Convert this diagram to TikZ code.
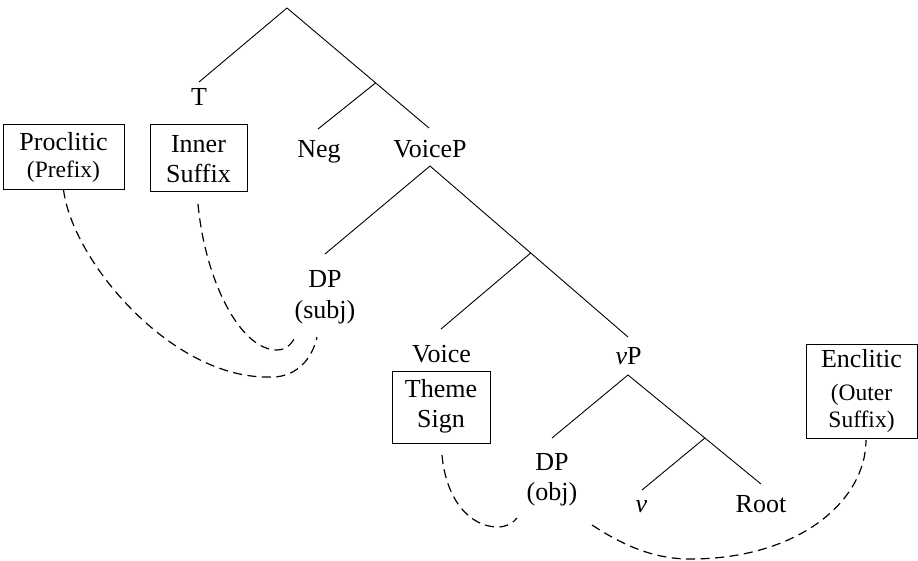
\documentclass[tikz,border=0pt]{standalone}
\usepackage{fontspec}
\setmainfont{Liberation Serif}
\begin{document}
\begin{tikzpicture}[x=1pt,y=-1pt,
  treeline/.style={line width=0.9pt},
  lbl/.style={inner sep=0pt, anchor=base, font=\fontsize{26}{30}\selectfont},
  small/.style={inner sep=0pt, anchor=base, font=\fontsize{23.5}{27}\selectfont},
  morph/.style={draw, line width=1pt, inner sep=0pt},
  link/.style={line width=1.2pt, dash pattern=on 9pt off 5.5pt}]
\useasboundingbox (0,0) rectangle (918,560);
% tree points
\coordinate (top) at (287,8);
\coordinate (tEnd) at (199,82);
\coordinate (n1) at (375.5,83);
\coordinate (negEnd) at (318,129);
\coordinate (vpEnd) at (429,128);
\coordinate (vpA) at (430,166);
\coordinate (subjEnd) at (325,254);
\coordinate (n2) at (530.7,253);
\coordinate (voiceEnd) at (441,329);
\coordinate (littlevEnd) at (628,337);
\coordinate (lvA) at (628,375);
\coordinate (objEnd) at (552,438);
\coordinate (n3) at (704.9,438);
\coordinate (vEnd) at (642,490);
\coordinate (rootEnd) at (761,484);
% labels
\node[lbl] (T) at (199,105) {T};
\node[lbl] (neg) at (319,157) {Neg};
\node[lbl] (voiceP) at (430,157) {VoiceP};
\node[lbl] (dpsubj) at (325,287) {DP};
\node[lbl] (subj) at (325,318) {(subj)};
\node[lbl] (voice) at (441.5,362) {Voice};
\node[lbl] (vP) at (628.5,364) {\textit{v}P};
\node[lbl] (dpobj) at (552,470) {DP};
\node[lbl] (obj) at (552,500) {(obj)};
\node[lbl] (v) at (641.5,512) {\textit{v}};
\node[lbl] (root) at (761,512) {Root};
% branches
\draw[treeline] (tEnd) -- (top) -- (vpEnd);
\draw[treeline] (n1) -- (negEnd);
\draw[treeline] (subjEnd) -- (vpA) -- (littlevEnd);
\draw[treeline] (n2) -- (voiceEnd);
\draw[treeline] (objEnd) -- (lvA) -- (rootEnd);
\draw[treeline] (n3) -- (vEnd);
% boxes
\node[morph, minimum width=121pt, minimum height=65pt] (procl) at (63.5,156.5) {};
\node[lbl] at (63.5,150) {Proclitic};
\node[small] at (63.5,177) {(Prefix)};
\node[morph, minimum width=97pt, minimum height=67pt] (inner) at (198.5,157.5) {};
\node[lbl] at (198.5,152) {Inner};
\node[lbl] at (198.5,182) {Suffix};
\node[morph, minimum width=98pt, minimum height=72pt] (theme) at (441,407) {};
\node[lbl] at (441,397) {Theme};
\node[lbl] at (441,427) {Sign};
\node[morph, minimum width=111pt, minimum height=94pt] (encl) at (861.5,391) {};
\node[lbl] at (861.5,367) {Enclitic};
\node[small] at (861.5,400) {(Outer};
\node[small] at (861.5,427) {Suffix)};
% dashed links
\coordinate (innerS) at (198,204);
\coordinate (themeS) at (442,455);
\coordinate (enclS) at (866,440);
\coordinate (subjA) at (317,337);
\coordinate (subjB) at (295,337);
\coordinate (objA) at (517,518);
\coordinate (objB) at (592,525);
\draw[link] (procl.south) .. controls (72,260) and (170,377) .. (267,377)
  .. controls (295,379) and (312,360) .. (subjA);
\draw[link] (innerS) .. controls (205,280) and (240,350) .. (277,350)
  .. controls (287,350) and (293,342) .. (subjB);
\draw[link] (themeS) .. controls (446,500) and (470,527) .. (498,527)
  .. controls (507,527) and (514,522) .. (objA);
\draw[link] (objB) .. controls (630,550) and (660,559) .. (690,559)
  .. controls (800,559) and (866,500) .. (enclS);
\end{tikzpicture}
\end{document}
